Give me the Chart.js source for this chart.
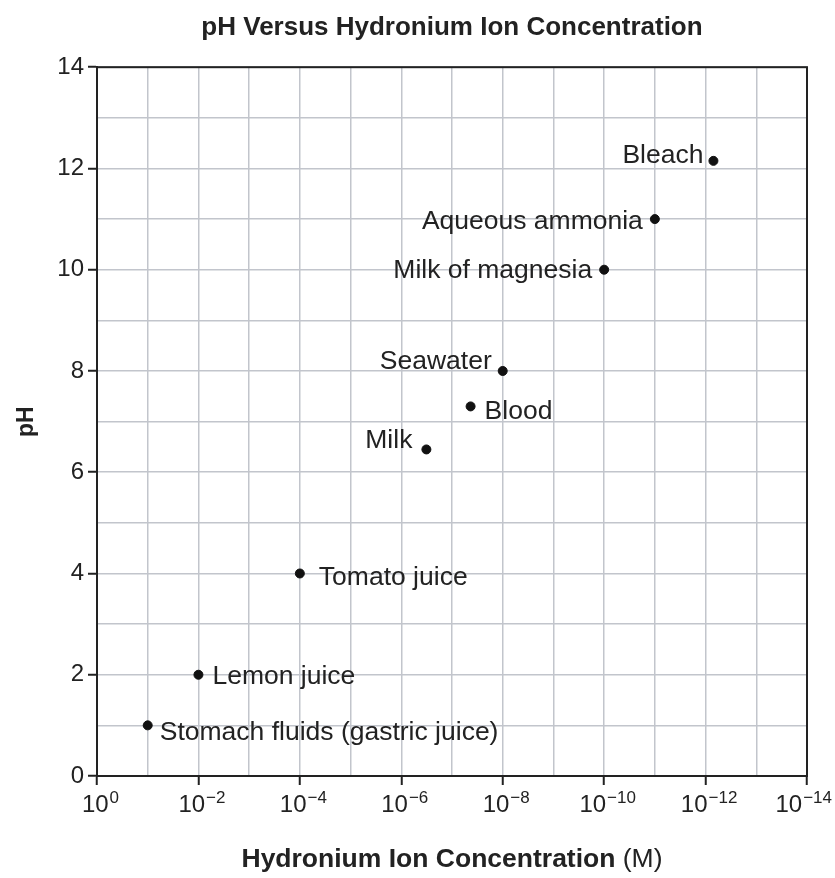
<!DOCTYPE html>
<html>
<head>
<meta charset="utf-8">
<script src="https://cdn.jsdelivr.net/npm/chart.js@4.4.1/dist/chart.umd.min.js"></script>
<style>
  html, body { margin: 0; padding: 0; background: #fff; }
  #wrap { width: 835px; height: 878px; }
</style>
</head>
<body>
<div id="wrap"><canvas id="chart"></canvas></div>
<script>
// substances, hydronium concentration (M) and pH
const substances = ['Bleach', 'Aqueous ammonia', 'Milk of magnesia', 'Seawater', 'Blood', 'Milk', 'Tomato juice', 'Lemon juice', 'Stomach fluids (gastric juice)'];
const concentration = [7e-13, 1e-11, 1e-10, 1e-8, 4.3e-8, 3.2e-7, 1e-4, 1e-2, 1e-1];
const phValues = [12.15, 11, 10, 8, 7.3, 6.45, 4, 2, 1];
// x ticks are powers of ten: 10^0 ... 10^-14
const xExponents = [0, -1, -2, -3, -4, -5, -6, -7, -8, -9, -10, -11, -12, -13, -14];
const yTicks = [0, 1, 2, 3, 4, 5, 6, 7, 8, 9, 10, 11, 12, 13, 14];

// label placement relative to the dot: [dx, dy, align]
const labelPlace = [
  [-10, -5, 'right'], [-12, 3, 'right'], [-12, 1, 'right'], [-11, -9, 'right'],
  [14, 5, 'left'], [-14, -9, 'right'], [19, 4, 'left'], [14, 2, 'left'], [12, 7, 'left']
];

const FONT = '"Liberation Sans", Arial, Helvetica, sans-serif';
const INK = '#222';
const GRID = '#c2c5cc';

const frame = {
  id: 'frame',
  afterDraw(chart) {
    const a = chart.chartArea, ctx = chart.ctx;
    ctx.save();
    ctx.strokeStyle = INK;
    ctx.lineWidth = 2;
    ctx.strokeRect(a.left, a.top, a.right - a.left, a.bottom - a.top);
    ctx.restore();
  }
};

// x tick labels as 10 with a raised exponent, placed with the x scale
const powerLabels = {
  id: 'powerLabels',
  afterDraw(chart) {
    const ctx = chart.ctx, xs = chart.scales.x, a = chart.chartArea;
    ctx.save();
    ctx.fillStyle = INK;
    ctx.textBaseline = 'middle';
    ctx.textAlign = 'left';
    xExponents.forEach(e => {
      if (e % 2 !== 0) return;
      const exp = e === 0 ? '0' : '\u2212' + (-e);
      ctx.font = '24px ' + FONT;
      const wb = ctx.measureText('10').width;
      ctx.font = '17px ' + FONT;
      const we = ctx.measureText(exp).width;
      let x = xs.getPixelForValue(Math.pow(10, e)) + 3 - (wb + we) / 2;
      x = Math.min(x, chart.width - 4 - wb - we);
      const y = a.bottom + 29;
      ctx.font = '24px ' + FONT;
      ctx.fillText('10', x, y);
      ctx.font = '17px ' + FONT;
      ctx.fillText(exp, x + wb + 1, y - 7);
    });
    ctx.restore();
  }
};

const pointLabels = {
  id: 'pointLabels',
  afterDatasetsDraw(chart) {
    const ctx = chart.ctx;
    const meta = chart.getDatasetMeta(0);
    ctx.save();
    ctx.font = '26.5px ' + FONT;
    ctx.fillStyle = INK;
    ctx.textBaseline = 'middle';
    meta.data.forEach((pt, i) => {
      const p = labelPlace[i];
      ctx.textAlign = p[2];
      ctx.fillText(substances[i], pt.x + p[0], pt.y + p[1]);
    });
    ctx.restore();
  }
};

const xTitle = {
  id: 'xTitle',
  afterDraw(chart) {
    const ctx = chart.ctx, a = chart.chartArea;
    const bold = 'bold 26.5px ' + FONT, reg = '26.5px ' + FONT;
    const t1 = 'Hydronium Ion Concentration ', t2 = '(M)';
    ctx.save();
    ctx.fillStyle = INK;
    ctx.textBaseline = 'middle';
    ctx.font = bold;
    const w1 = ctx.measureText(t1).width;
    ctx.font = reg;
    const w2 = ctx.measureText(t2).width;
    const x0 = (a.left + a.right) / 2 - (w1 + w2) / 2;
    const y = 860;
    ctx.textAlign = 'left';
    ctx.font = bold;
    ctx.fillText(t1, x0, y);
    ctx.font = reg;
    ctx.fillText(t2, x0 + w1, y);
    ctx.restore();
  }
};

new Chart(document.getElementById('chart'), {
  type: 'scatter',
  data: {
    datasets: [{
      data: concentration.map((c, i) => ({ x: c, y: phValues[i] })),
      backgroundColor: '#111',
      borderColor: '#111',
      pointRadius: 4.5,
      pointHoverRadius: 4.5,
      clip: false
    }]
  },
  options: {
    responsive: true,
    maintainAspectRatio: false,
    animation: false,
    layout: { padding: { left: 0, right: 28, top: 0, bottom: 0 } },
    plugins: {
      legend: { display: false },
      tooltip: { enabled: false },
      title: {
        display: true,
        fullSize: false,
        text: 'pH Versus Hydronium Ion Concentration',
        color: INK,
        font: { family: FONT, size: 26, weight: 'bold', lineHeight: 1.2 },
        padding: { top: 12, bottom: 24 }
      }
    },
    scales: {
      x: {
        type: 'logarithmic',
        reverse: true,
        min: 1e-14,
        max: 1,
        afterBuildTicks(scale) {
          scale.ticks = xExponents.map(e => ({ value: Math.pow(10, e) }));
        },
        afterFit(scale) {
          scale.height = 102;
          scale.paddingLeft = 0;
          scale.paddingRight = 0;
        },
        ticks: { display: false, autoSkip: false, maxRotation: 0 },
        grid: {
          color: GRID,
          lineWidth: 1.5,
          tickLength: 9,
          tickWidth: 2,
          tickColor: ctx => {
            const e = Math.round(Math.log10(ctx.tick.value));
            return e % 2 === 0 ? INK : 'rgba(0,0,0,0)';
          }
        },
        border: { display: true, color: INK, width: 2 }
      },
      y: {
        min: 0,
        max: 14,
        afterBuildTicks(scale) {
          scale.ticks = yTicks.map(v => ({ value: v }));
        },
        afterFit(scale) {
          scale.width = 97;
          scale.paddingTop = 0;
          scale.paddingBottom = 0;
        },
        ticks: {
          autoSkip: false,
          color: INK,
          padding: 4,
          font: { family: FONT, size: 24 },
          callback: v => (v % 2 === 0 ? String(v) : '')
        },
        grid: {
          color: GRID,
          lineWidth: 1.5,
          tickLength: 9,
          tickWidth: 2,
          tickColor: ctx => (ctx.tick.value % 2 === 0 ? INK : 'rgba(0,0,0,0)')
        },
        border: { display: true, color: INK, width: 2 },
        title: {
          display: true,
          text: 'pH',
          color: INK,
          font: { family: FONT, size: 23, weight: 'bold' },
          padding: { top: 13, bottom: 0 }
        }
      }
    }
  },
  plugins: [frame, powerLabels, pointLabels, xTitle]
});
</script>
</body>
</html>
